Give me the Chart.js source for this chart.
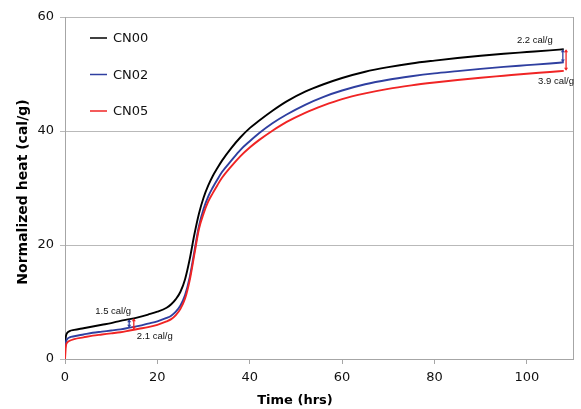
<!DOCTYPE html>
<html>
<head>
<meta charset="utf-8">
<script src="https://cdn.jsdelivr.net/npm/chart.js@4"></script>
<style>
  html, body { margin: 0; padding: 0; background: #fff; }
  #wrap { width: 581px; height: 409px; }
</style>
</head>
<body>
<div id="wrap"><canvas id="heatChart" width="581" height="409"></canvas></div>
<script>
// time axis (hrs) and normalized heat (cal/g)
const hours = [0, 0.2, 0.5, 1, 2, 4, 6, 8, 10, 12, 14, 16, 18, 20, 22, 23, 24, 25, 26, 27,
  28, 29, 30, 31, 32, 33, 34, 36, 38, 40, 42, 45, 48, 52, 56, 60, 65, 70, 75, 80,
  85, 90, 95, 100, 105, 108];
const cn00 = [2.5, 4.0, 4.6, 4.9, 5.1, 5.4, 5.7, 6.0, 6.3, 6.7, 7.0, 7.35, 7.8, 8.3, 9.0, 9.6, 10.5, 11.8, 14.0, 17.5,
  21.8, 25.5, 28.3, 30.4, 32.1, 33.5, 34.8, 37.0, 38.9, 40.5, 41.8, 43.6, 45.2, 46.9, 48.2, 49.3, 50.4, 51.2, 51.85, 52.35,
  52.8, 53.2, 53.55, 53.85, 54.15, 54.35];
const cn02 = [1.8, 3.0, 3.5, 3.8, 4.0, 4.3, 4.6, 4.8, 5.0, 5.2, 5.5, 5.8, 6.2, 6.6, 7.2, 7.6, 8.3, 9.4, 11.2, 14.3,
  18.8, 23.3, 26.3, 28.5, 30.1, 31.5, 32.8, 34.8, 36.7, 38.2, 39.6, 41.4, 42.9, 44.6, 46.0, 47.1, 48.2, 49.0, 49.6, 50.1,
  50.5, 50.9, 51.25, 51.55, 51.85, 52.05];
const cn05 = [0, 2.3, 2.9, 3.2, 3.5, 3.8, 4.1, 4.3, 4.5, 4.7, 5.0, 5.3, 5.6, 6.0, 6.6, 7.0, 7.7, 8.8, 10.6, 13.8,
  18.3, 22.8, 25.5, 27.6, 29.1, 30.5, 31.8, 33.8, 35.6, 37.1, 38.4, 40.1, 41.6, 43.2, 44.5, 45.6, 46.6, 47.4, 48.0, 48.5,
  48.95, 49.35, 49.7, 50.05, 50.35, 50.55];
const seriesNames = ["CN00", "CN02", "CN05"];
const seriesColors = ["#000000", "#2f3fa0", "#f02424"];
const xTicks = [0, 20, 40, 60, 80, 100];

// difference markers: hour, lower series index (drawn up to CN00), label
const gapHours = [13.9, 14.9, 107.8, 108.5];
const gapSeries = [1, 2, 1, 2];
const gapLabels = ["1.5 cal/g", "2.1 cal/g", "2.2 cal/g", "3.9 cal/g"];

const allSeries = [cn00, cn02, cn05];

function valueAt(series, t) {
  if (t >= hours[hours.length - 1]) return series[series.length - 1];
  for (let i = 1; i < hours.length; i++) {
    if (t <= hours[i]) {
      const f = (t - hours[i - 1]) / (hours[i] - hours[i - 1]);
      return series[i - 1] + f * (series[i] - series[i - 1]);
    }
  }
  return series[series.length - 1];
}

function drawArrow(ctx, x, yTop, yBottom, color) {
  const h = 3;
  ctx.save();
  ctx.strokeStyle = color;
  ctx.fillStyle = color;
  ctx.lineWidth = 1.3;
  ctx.beginPath();
  ctx.moveTo(x, yTop + 1);
  ctx.lineTo(x, yBottom - 1);
  ctx.stroke();
  ctx.beginPath();
  ctx.moveTo(x, yTop);
  ctx.lineTo(x - h / 1.5, yTop + h);
  ctx.lineTo(x + h / 1.5, yTop + h);
  ctx.closePath();
  ctx.fill();
  ctx.beginPath();
  ctx.moveTo(x, yBottom);
  ctx.lineTo(x - h / 1.5, yBottom - h);
  ctx.lineTo(x + h / 1.5, yBottom - h);
  ctx.closePath();
  ctx.fill();
  ctx.restore();
}

const notesPlugin = {
  id: "notes",
  beforeDatasetsDraw(chart) {
    const { ctx, chartArea } = chart;
    ctx.save();
    ctx.strokeStyle = "#a6a6a6";
    ctx.lineWidth = 1;
    ctx.beginPath();
    ctx.moveTo(chartArea.right + 0.5, chartArea.top);
    ctx.lineTo(chartArea.right + 0.5, chartArea.bottom);
    ctx.stroke();
    ctx.restore();
  },
  afterDraw(chart) {
    const { ctx, chartArea } = chart;
    const xs = chart.scales.x;
    const ys = chart.scales.y;

    // arrows + labels
    const textOffsets = [[-16, -8], [21, 7], [-28, -9], [-10, 11]];
    gapHours.forEach(function (t, i) {
      const x = xs.getPixelForValue(t);
      const yTop = ys.getPixelForValue(valueAt(cn00, t));
      const yBot = ys.getPixelForValue(valueAt(allSeries[gapSeries[i]], t));
      drawArrow(ctx, x, yTop, yBot, seriesColors[gapSeries[i]]);
      const off = textOffsets[i];
      ctx.save();
      ctx.font = "9.5px 'Liberation Sans'";
      ctx.fillStyle = "#111";
      ctx.textAlign = "center";
      ctx.textBaseline = "middle";
      const ty = off[1] < 0 ? yTop + off[1] : yBot + off[1];
      ctx.fillText(gapLabels[i], x + off[0], ty);
      ctx.restore();
    });

    // legend inside the plot
    ctx.save();
    ctx.font = "13px 'DejaVu Sans'";
    ctx.textBaseline = "middle";
    ctx.textAlign = "left";
    seriesNames.forEach(function (name, i) {
      const y = chartArea.top + 21 + i * 36.5;
      const x0 = chartArea.left + 25;
      ctx.strokeStyle = seriesColors[i];
      ctx.lineWidth = 1.5;
      ctx.beginPath();
      ctx.moveTo(x0, y);
      ctx.lineTo(x0 + 17, y);
      ctx.stroke();
      ctx.fillStyle = "#111";
      ctx.fillText(name, x0 + 23, y + 1);
    });
    ctx.restore();

    // axis titles
    ctx.save();
    ctx.fillStyle = "#000";
    ctx.textAlign = "center";
    ctx.textBaseline = "middle";
    ctx.font = "bold 13px 'DejaVu Sans'";
    ctx.fillText("Time (hrs)", 295, 401);
    ctx.translate(23, 192);
    ctx.rotate(-Math.PI / 2);
    ctx.font = "bold 14px 'DejaVu Sans'";
    ctx.fillText("Normalized heat (cal/g)", 0, 0);
    ctx.restore();
  },
};

const datasets = allSeries.map(function (series, i) {
  return {
    label: seriesNames[i],
    data: hours.map((t, k) => ({ x: t, y: series[k] })),
    borderColor: seriesColors[i],
    backgroundColor: seriesColors[i],
    borderWidth: 1.9,
    pointRadius: 0,
    showLine: true,
    cubicInterpolationMode: "monotone",
    fill: false,
  };
});
// draw CN00 on top
datasets.reverse();

const config = {
  type: "scatter",
  data: { datasets: datasets },
  options: {
    responsive: false,
    animation: false,
    layout: { padding: { top: 17, right: 8, left: 0, bottom: 0 } },
    scales: {
      x: {
        type: "linear",
        min: 0,
        max: 110,
        afterFit: (scale) => { scale.height = 50; },
        afterBuildTicks: (scale) => { scale.ticks = xTicks.map((v) => ({ value: v })); },
        grid: { drawOnChartArea: false, drawTicks: true, tickLength: 5, color: "#a6a6a6" },
        border: { display: true, color: "#a6a6a6" },
        ticks: { color: "#111", padding: 6, font: { family: "DejaVu Sans", size: 13 } },
      },
      y: {
        min: 0,
        max: 60,
        afterFit: (scale) => { scale.width = 65; },
        grid: { color: "#b9b9b9", drawTicks: true, tickLength: 5 },
        border: { display: true, color: "#a6a6a6" },
        ticks: { stepSize: 20, color: "#111", padding: 6, font: { family: "DejaVu Sans", size: 13 } },
      },
    },
    plugins: {
      legend: { display: false },
      tooltip: { enabled: false },
    },
  },
  plugins: [notesPlugin],
};

const heatChart = new Chart(document.getElementById("heatChart"), config);
</script>
</body>
</html>
